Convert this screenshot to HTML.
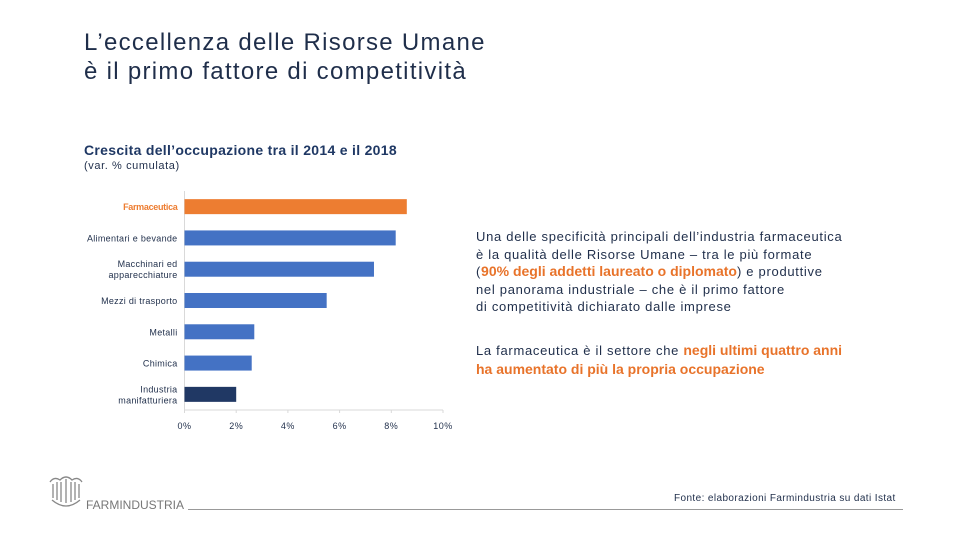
<!DOCTYPE html>
<html><head><meta charset="utf-8"><style>
body{margin:0;width:960px;height:540px;background:#fff;font-family:"Liberation Sans",sans-serif;position:relative;overflow:hidden;color:#1f2e4a}
.a{position:absolute;white-space:nowrap}
.o{color:#e8732a;font-weight:bold;letter-spacing:0}
</style></head><body>
<div class="a" style="left:84px;top:28px;font-size:24px;line-height:29px;color:#1f2e4a;letter-spacing:1.3px">L’eccellenza delle Risorse Umane<br>è il primo fattore di competitività</div>
<div class="a" style="left:84px;top:142px;font-size:14px;font-weight:bold;color:#1f3864;letter-spacing:0.3px">Crescita dell’occupazione tra il 2014 e il 2018</div>
<div class="a" style="left:84px;top:160px;font-size:11px;color:#1f2e4a;letter-spacing:0.6px">(var. % cumulata)</div>
<svg id="chart" class="a" style="left:0;top:0" width="960" height="540"></svg>
<div class="a" style="left:476px;top:228px;font-size:13px;line-height:17.5px;color:#1f2e4a;letter-spacing:0.7px">Una delle specificità principali dell’industria farmaceutica<br>è la qualità delle Risorse Umane – tra le più formate<br>(<span class="o" style="font-size:14px">90% degli addetti laureato o diplomato</span>) e produttive<br>nel panorama industriale – che è il primo fattore<br>di competitività dichiarato dalle imprese</div>
<div class="a" style="left:476px;top:341px;font-size:13px;line-height:18px;color:#1f2e4a;letter-spacing:0.7px">La farmaceutica è il settore che <span class="o" style="font-size:14px">negli ultimi quattro anni</span><br><span class="o" style="font-size:14px">ha aumentato di più la propria occupazione</span></div>
<svg class="a" style="left:48px;top:474px" width="36" height="36" viewBox="0 0 36 36"><g fill="none" stroke="#888" stroke-width="1.3"><path d="M2 8 Q6 2 12 6 Q18 0 24 6 Q30 2 34 8"/><path d="M5 10v14M9 8v18M13 8v20M18 5v24M23 8v20M27 8v18M31 10v14"/><path d="M4 26 Q18 38 32 26"/></g></svg>
<div class="a" style="left:86px;top:498px;font-size:12px;color:#777">FARMINDUSTRIA</div>
<div class="a" style="left:188px;top:509px;width:715px;height:1px;background:#999"></div>
<div class="a" style="left:674px;top:493px;font-size:10px;color:#1f2e4a;letter-spacing:0.4px">Fonte: elaborazioni Farmindustria su dati Istat</div>
<script>
const categories=["Farmaceutica","Alimentari e bevande","Macchinari ed|apparecchiature","Mezzi di trasporto","Metalli","Chimica","Industria|manifatturiera"];
const values=[8.6,8.17,7.33,5.5,2.7,2.6,2.0];
const ticks=[0,2,4,6,8,10];
const tickLabels=["0%","2%","4%","6%","8%","10%"];
const svgEl=document.getElementById('chart');const NS="http://www.w3.org/2000/svg";
const X0=184.5,X1=443,YTOP=191,YBOT=410;
const xs=v=>X0+(v/10)*(X1-X0);
const band=(YBOT-YTOP)/categories.length;
const ys=i=>YTOP+band*i+band/2;
function mk(t,a){const e=document.createElementNS(NS,t);for(const k in a)e.setAttribute(k,a[k]);svgEl.appendChild(e);return e;}
let ax=mk('line',{x1:X0,y1:YTOP,x2:X0,y2:YBOT,stroke:'#d9d9d9'});


let bx=mk('line',{x1:X0,y1:YBOT,x2:X1,y2:YBOT,stroke:'#d9d9d9'});


ticks.forEach((t,i)=>{const l=mk('text',{x:xs(t),y:YBOT+19,'text-anchor':'middle','font-size':9,fill:'#1f2e4a','font-family':'Liberation Sans','letter-spacing':'0.5'});l.textContent=tickLabels[i];


const tk=mk('line',{x1:xs(t),y1:YBOT,x2:xs(t),y2:YBOT+3,stroke:'#d9d9d9'});

});
categories.forEach((c,i)=>{const y=ys(i);const col=i==0?'#ed7d31':(i==categories.length-1?'#203864':'#4472c4');
const r=mk('rect',{x:X0,y:y-7.5,width:xs(values[i])-X0,height:15,fill:col});


const parts=c.split('|');
parts.forEach((p,j)=>{const t=mk('text',{x:X0-7,y:y+3.5+(j-(parts.length-1)/2)*11,'text-anchor':'end','font-size':9,fill:i==0?'#ed7d31':'#1f2e4a','font-weight':i==0?'bold':'normal','font-family':'Liberation Sans','letter-spacing':i==0?'-0.3':'0.3'});t.textContent=p;

});});
</script>
</body></html>
